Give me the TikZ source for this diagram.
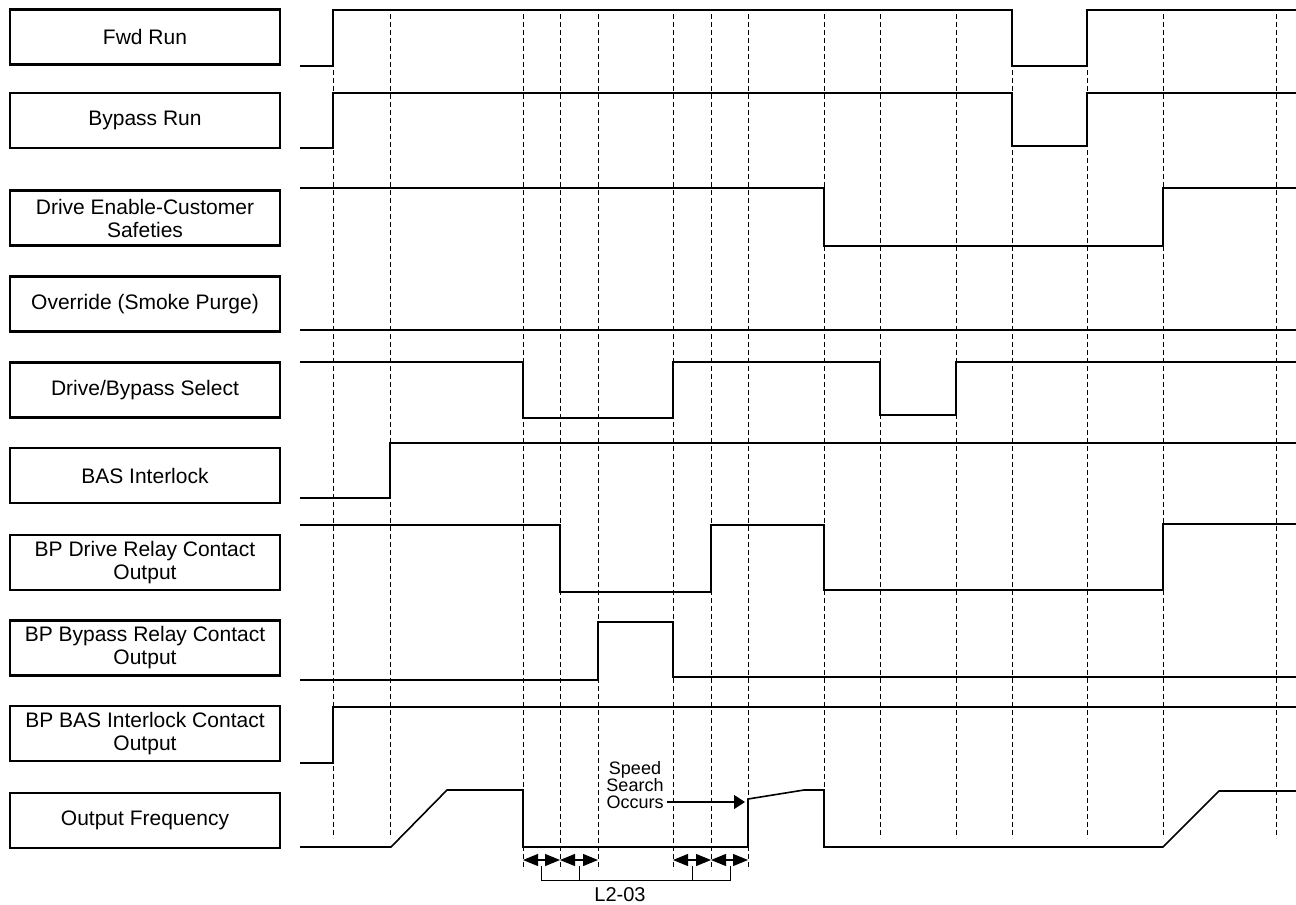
\documentclass[tikz,border=0pt]{standalone}
\usepackage{fontspec}
\setmainfont{Liberation Sans}
\usetikzlibrary{arrows.meta}

\begin{document}
\begin{tikzpicture}[x=1pt,y=-1pt,
  sigbox/.style={draw, line width=2.6pt, minimum width=270pt, minimum height=55pt, inner sep=0pt, align=center, font=\fontsize{21}{23}\selectfont},
  wave/.style={line width=1.6pt},
  timeline/.style={dash pattern=on 5pt off 3pt, line width=0.8pt},
  dim/.style={line width=1.1pt, {Triangle[length=15pt,width=12pt]}-{Triangle[length=15pt,width=12pt]}}]
\useasboundingbox (0,0) rectangle (1296,905);

% signal names
\node[sigbox] (fwd) at (145,37) {Fwd Run};
\node[sigbox] (byp) at (145,120.5) {Bypass Run};
\node[sigbox] (enable) at (145,218) {Drive Enable-Customer\\Safeties};
\node[sigbox] (override) at (145,304) {Override (Smoke Purge)};
\node[sigbox] (select) at (145,390) {Drive/Bypass Select};
\node[sigbox] (bas) at (145,475.5) {BAS Interlock};
\node[sigbox] (drvrelay) at (145,562.5) {BP Drive Relay Contact\\Output};
\node[sigbox] (bprelay) at (145,648) {BP Bypass Relay Contact\\Output};
\node[sigbox] (basrelay) at (145,733.5) {BP BAS Interlock Contact\\Output};
\node[sigbox] (freq) at (145,820.5) {Output Frequency};

% time marks
\foreach \t in {333,390,824,880,956,1012,1087,1163,1276}
  \draw[timeline] (\t,14) -- (\t,838);
\foreach \t in {523,560,598,673,711,748}
  \draw[timeline] (\t,14) -- (\t,870);

% waveforms
\draw[wave] (300,66) -| (333,10) -| (1012,66) -| (1087,10) -- (1296,10);
\draw[wave] (300,148) -| (333,93) -| (1012,146) -| (1087,93) -- (1296,93);
\draw[wave] (300,188) -| (824,246) -| (1163,188) -- (1296,188);
\draw[wave] (300,330) -- (1296,330);
\draw[wave] (300,362) -| (523,418) -| (673,362) -| (880,415) -| (956,362) -- (1296,362);
\draw[wave] (300,498) -| (390,443) -- (1296,443);
\draw[wave] (300,525) -| (560,592) -| (711,525) -| (824,590) -| (1163,524) -- (1296,524);
\draw[wave] (300,680) -| (598,622) -| (673,677) -- (1296,677);
\draw[wave] (300,763) -| (333,707) -- (1296,707);
\draw[wave] (300,847) -- (391,847) -- (447,790) -- (523,790) -- (523,847)
  -- (748,847) -- (748,799) -- (804,790) -- (824,790) -- (824,847)
  -- (1163,847) -- (1219,791) -- (1296,791);

% speed search
\node[align=center, font=\fontsize{18}{17}\selectfont] (search) at (635,785) {Speed\\Search\\Occurs};
\coordinate (ssend) at (745,802);
\draw[line width=1.1pt, -{Triangle[length=11pt,width=14pt]}] (search.east |- ssend) -- (ssend);

% L2-03 timing
\foreach \t/\n in {523/a,560/b,598/c,673/d,711/e,748/f}
  \coordinate (m\n) at (\t,860);
\draw[dim] (ma) -- (mb);
\draw[dim] (mb) -- (mc);
\draw[dim] (md) -- (me);
\draw[dim] (me) -- (mf);
\draw[line width=0.9pt] (541,866) -- (541,880) -- (730,880) -- (730,866);
\draw[line width=0.9pt] (579,866) -- (579,880);
\draw[line width=0.9pt] (692,866) -- (692,880);
\node[font=\fontsize{20}{20}\selectfont] (l203) at (620,895) {L2-03};
\end{tikzpicture}
\end{document}
